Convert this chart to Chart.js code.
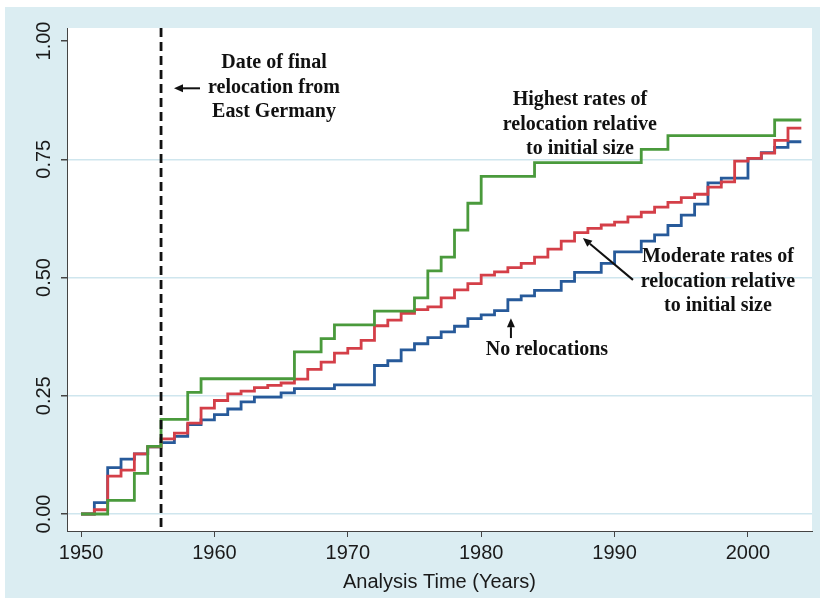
<!DOCTYPE html>
<html><head><meta charset="utf-8">
<script src="https://cdn.jsdelivr.net/npm/chart.js@4.4.1/dist/chart.umd.min.js"></script>
<style>html,body{margin:0;padding:0;background:#fff;}#wrap{width:825px;height:604px;position:relative;}</style>
</head><body><div id="wrap"><canvas id="c" width="825" height="604"></canvas></div>
<script>
// ---- data ----
const years = [1950,1951,1952,1953,1954,1955,1956,1957,1958,1959,
  1960,1961,1962,1963,1964,1965,1966,1967,1968,1969,
  1970,1971,1972,1973,1974,1975,1976,1977,1978,1979,
  1980,1981,1982,1983,1984,1985,1986,1987,1988,1989,
  1990,1991,1992,1993,1994,1995,1996,1997,1998,1999,
  2000,2001,2002,2003];
const endYear = 2004;
const noRelocations = [0,0.024,0.098,0.116,0.127,0.142,0.151,0.164,0.189,0.199,
  0.210,0.222,0.237,0.247,0.247,0.256,0.265,0.265,0.265,0.273,
  0.273,0.273,0.314,0.324,0.347,0.360,0.373,0.385,0.397,0.413,
  0.421,0.430,0.453,0.461,0.473,0.473,0.492,0.511,0.511,0.530,
  0.554,0.554,0.577,0.590,0.610,0.632,0.655,0.700,0.710,0.710,
  0.752,0.764,0.775,0.787];
const moderateRates = [0,0.009,0.080,0.093,0.127,0.142,0.159,0.171,0.192,0.224,
  0.240,0.254,0.260,0.267,0.272,0.277,0.285,0.306,0.321,0.340,
  0.350,0.367,0.398,0.410,0.424,0.432,0.438,0.457,0.474,0.487,
  0.505,0.512,0.521,0.530,0.543,0.560,0.577,0.595,0.604,0.611,
  0.617,0.628,0.638,0.649,0.659,0.669,0.676,0.691,0.702,0.746,
  0.752,0.763,0.790,0.816];
const highestRates = [0,0,0.029,0.029,0.086,0.143,0.200,0.200,0.257,0.286,
  0.286,0.286,0.286,0.286,0.286,0.286,0.343,0.343,0.371,0.400,
  0.400,0.400,0.429,0.429,0.429,0.457,0.514,0.543,0.600,0.657,
  0.714,0.714,0.714,0.714,0.743,0.743,0.743,0.743,0.743,0.743,
  0.743,0.743,0.771,0.771,0.800,0.800,0.800,0.800,0.800,0.800,
  0.800,0.800,0.833,0.833];
const xTickValues = [1950,1960,1970,1980,1990,2000];
const yTickValues = [0,0.25,0.5,0.75,1];
const yTickLabels = ['0.00','0.25','0.50','0.75','1.00'];
const finalRelocationYear = 1956;
const xTitle = 'Analysis Time (Years)';

// ---- build ----
function steps(vals){
  const p = years.map((yr,i)=>({x:yr,y:vals[i]}));
  p.push({x:endYear,y:vals[vals.length-1]});
  return p;
}
const SANS = '"Liberation Sans", Arial, Helvetica, sans-serif';
const SERIF = '"Liberation Serif", "Times New Roman", serif';

const notes = [
  {lines:['Date of final','relocation from','East Germany'], x:1964.47, y:0.9535},
  {lines:['Highest rates of','relocation relative','to initial size'], x:1987.4, y:0.875},
  {lines:['Moderate rates of','relocation relative','to initial size'], x:1997.75, y:0.543},
  {lines:['No relocations'], x:1984.93, y:0.347}
];
const arrows = [
  {from:[1958.92,0.90], to:[1956.97,0.90]},
  {from:[1982.23,0.372], to:[1982.23,0.414]},
  {from:[1991.38,0.495], to:[1987.63,0.5835]}
];

const bgPlugin = {
  id:'bg',
  beforeDraw(chart){
    const {ctx, chartArea:a} = chart;
    ctx.save();
    ctx.fillStyle='#ffffff'; ctx.fillRect(0,0,chart.width,chart.height);
    ctx.fillStyle='#dbedf2'; ctx.fillRect(5,7,815,591);
    ctx.fillStyle='#ffffff'; ctx.fillRect(a.left,a.top,a.right-a.left,a.bottom-a.top);
    ctx.restore();
  }
};

const annPlugin = {
  id:'ann',
  afterDatasetsDraw(chart){
    const {ctx, chartArea:a, scales:{x,y}} = chart;
    ctx.save();
    // dashed reference line
    const xd = x.getPixelForValue(finalRelocationYear);
    ctx.strokeStyle='#111'; ctx.lineWidth=2.8; ctx.setLineDash([9,5]);
    ctx.beginPath(); ctx.moveTo(xd,a.top); ctx.lineTo(xd,a.bottom); ctx.stroke();
    ctx.setLineDash([]);
    // texts
    ctx.fillStyle='#111';
    ctx.font='bold 20px '+SERIF;
    ctx.textAlign='center'; ctx.textBaseline='middle';
    notes.forEach(n=>{
      const px=x.getPixelForValue(n.x), py=y.getPixelForValue(n.y);
      n.lines.forEach((t,i)=>ctx.fillText(t,px,py+i*24.5));
    });
    // arrows
    arrows.forEach(ar=>{
      const x1=x.getPixelForValue(ar.from[0]), y1=y.getPixelForValue(ar.from[1]);
      const x2=x.getPixelForValue(ar.to[0]), y2=y.getPixelForValue(ar.to[1]);
      const ang=Math.atan2(y2-y1,x2-x1), L=9, W=4;
      const bx=x2-L*Math.cos(ang), by=y2-L*Math.sin(ang);
      ctx.strokeStyle='#111'; ctx.lineWidth=2;
      ctx.beginPath(); ctx.moveTo(x1,y1); ctx.lineTo(bx,by); ctx.stroke();
      ctx.beginPath();
      ctx.moveTo(x2,y2);
      ctx.lineTo(bx+W*Math.sin(ang), by-W*Math.cos(ang));
      ctx.lineTo(bx-W*Math.sin(ang), by+W*Math.cos(ang));
      ctx.closePath(); ctx.fill();
    });
    ctx.restore();
  },
  afterDraw(chart){
    const {ctx, scales:{y}} = chart;
    ctx.save();
    ctx.fillStyle='#1a1a1a';
    ctx.font='20px '+SANS;
    ctx.textAlign='center'; ctx.textBaseline='middle';
    yTickValues.forEach((v,i)=>{
      const py=y.getPixelForValue(v);
      ctx.save(); ctx.translate(44,py); ctx.rotate(-Math.PI/2);
      ctx.fillText(yTickLabels[i],0,0); ctx.restore();
    });
    ctx.restore();
  }
};

new Chart(document.getElementById('c'), {
  type:'line',
  data:{datasets:[
    {label:'Highest rates of relocation relative to initial size', data:steps(highestRates), borderColor:'#4a9a3c'},
    {label:'Moderate rates of relocation relative to initial size', data:steps(moderateRates), borderColor:'#d43f48'},
    {label:'No relocations', data:steps(noRelocations), borderColor:'#275a9a'}
  ]},
  options:{
    responsive:false, animation:false, devicePixelRatio:1,
    layout:{padding:{left:0,top:28,right:13,bottom:0}},
    plugins:{legend:{display:false}, tooltip:{enabled:false}},
    elements:{point:{radius:0}, line:{borderWidth:2.8, stepped:'before', tension:0, fill:false}},
    scales:{
      x:{type:'linear', min:1948.95, max:2004.8,
        afterBuildTicks:s=>{s.ticks=xTickValues.map(v=>({value:v}));},
        afterFit:s=>{s.height=73;},
        grid:{drawOnChartArea:false, drawTicks:true, tickLength:6, tickColor:'#444', color:'#444', lineWidth:1},
        border:{display:true, color:'#444', width:1},
        ticks:{color:'#1a1a1a', font:{family:SANS, size:20}, padding:4, maxRotation:0, minRotation:0, autoSkip:false,
          callback:v=>String(v)},
        title:{display:true, text:xTitle, color:'#1a1a1a', font:{family:SANS, size:20}, padding:{top:0,bottom:10}}
      },
      y:{type:'linear', min:-0.0359, max:1.0275,
        afterBuildTicks:s=>{s.ticks=yTickValues.map(v=>({value:v}));},
        afterFit:s=>{s.width=67;},
        grid:{drawTicks:true, tickLength:6, tickColor:'#444', lineWidth:1.5,
          color:c=>(c.tick && c.tick.value===1) ? 'rgba(0,0,0,0)' : '#cfe6ee'},
        border:{display:true, color:'#444', width:1},
        ticks:{display:false}
      }
    }
  },
  plugins:[bgPlugin, annPlugin]
});
</script></body></html>
